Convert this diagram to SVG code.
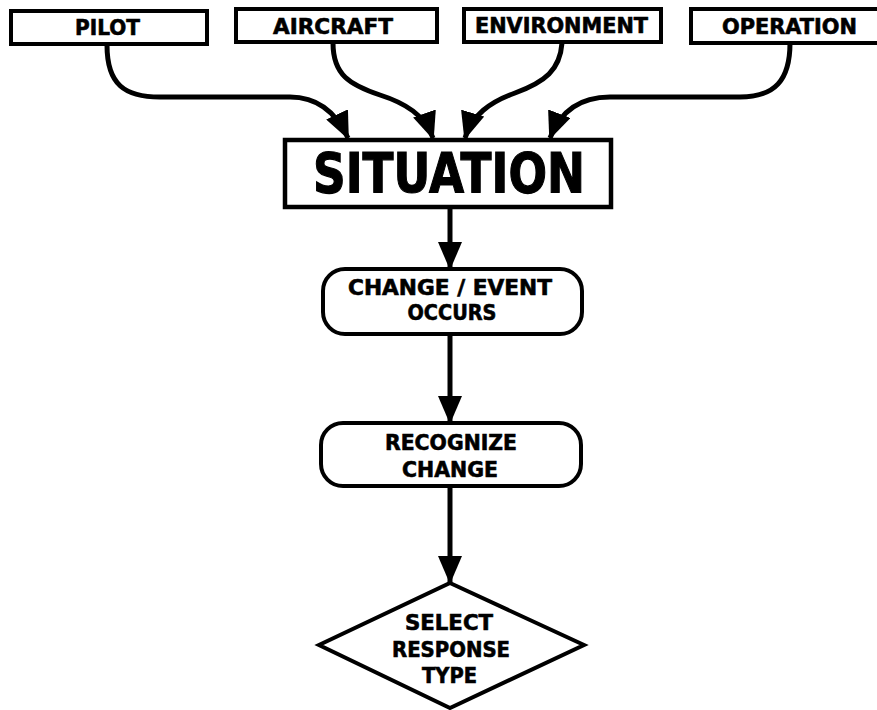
<svg xmlns="http://www.w3.org/2000/svg" width="877" height="710" viewBox="0 0 877 710">
<style>
.box{fill:#fff;stroke:#000;stroke-width:4}
.t{font-family:"DejaVu Sans","Liberation Sans",sans-serif;font-weight:bold;font-size:20.5px;fill:#000;stroke:#000;stroke-width:0.6;text-anchor:middle}
.big{font-size:55px;stroke-width:1.2}
.c{fill:none;stroke:#000;stroke-width:5}
</style>
<defs>
<marker id="ah" markerUnits="userSpaceOnUse" viewBox="0 0 28 24" markerWidth="28" markerHeight="24" refX="26" refY="12" orient="auto">
<path d="M0,0 L28,12 L0,24 z" fill="#000"/>
</marker>
</defs>
<rect width="877" height="710" fill="#fff"/>
<g id="connectors">
<path class="c" marker-end="url(#ah)" d="M107,45 C107,85 125,97 160,97 L290,97 C315,97 335,110 348,138"/>
<path class="c" marker-end="url(#ah)" d="M333,43 C333,75 350,85 380,95 C405,103 425,115 433,138"/>
<path class="c" marker-end="url(#ah)" d="M562,43 C560,70 545,82 515,93 C490,102 472,115 465,138"/>
<path class="c" marker-end="url(#ah)" d="M790,43 C790,80 775,97 740,97 L610,97 C580,97 560,112 550,138"/>
<path class="c" marker-end="url(#ah)" d="M450,208 L450,268"/>
<path class="c" marker-end="url(#ah)" d="M450,335 L450,422"/>
<path class="c" marker-end="url(#ah)" d="M450,487 L450,582"/>
</g>
<g id="pilot">
<rect class="box" x="11" y="11" width="196" height="33"/>
<text class="t" x="107.5" y="35" textLength="65" lengthAdjust="spacingAndGlyphs">PILOT</text>
</g>
<g id="aircraft">
<rect class="box" x="236" y="9" width="201" height="33"/>
<text class="t" x="333" y="34" textLength="120" lengthAdjust="spacingAndGlyphs">AIRCRAFT</text>
</g>
<g id="environment">
<rect class="box" x="464" y="9" width="197" height="33"/>
<text class="t" x="561.5" y="33" textLength="173" lengthAdjust="spacingAndGlyphs">ENVIRONMENT</text>
</g>
<g id="operation">
<rect class="box" x="691" y="9" width="190" height="34"/>
<text class="t" x="789.5" y="34" textLength="135" lengthAdjust="spacingAndGlyphs">OPERATION</text>
</g>
<g id="situation">
<rect class="box" x="285" y="140" width="326" height="67" style="stroke-width:4.5"/>
<text class="t big" x="449" y="192" textLength="272" lengthAdjust="spacingAndGlyphs">SITUATION</text>
</g>
<g id="change-event">
<rect class="box" x="323" y="269" width="259" height="65" rx="22" ry="22"/>
<text class="t" x="450" y="295" textLength="204" lengthAdjust="spacingAndGlyphs">CHANGE / EVENT</text>
<text class="t" x="452" y="320" textLength="89" lengthAdjust="spacingAndGlyphs">OCCURS</text>
</g>
<g id="recognize">
<rect class="box" x="321" y="423" width="260" height="63" rx="22" ry="22"/>
<text class="t" x="451" y="450" textLength="132" lengthAdjust="spacingAndGlyphs">RECOGNIZE</text>
<text class="t" x="450" y="477" textLength="96" lengthAdjust="spacingAndGlyphs">CHANGE</text>
</g>
<g id="select-response">
<polygon class="box" points="450,583 584,645 450,708 319,645"/>
<text class="t" x="449" y="630" textLength="88" lengthAdjust="spacingAndGlyphs">SELECT</text>
<text class="t" x="451" y="657" textLength="118" lengthAdjust="spacingAndGlyphs">RESPONSE</text>
<text class="t" x="449.5" y="683" textLength="55" lengthAdjust="spacingAndGlyphs">TYPE</text>
</g>
</svg>
